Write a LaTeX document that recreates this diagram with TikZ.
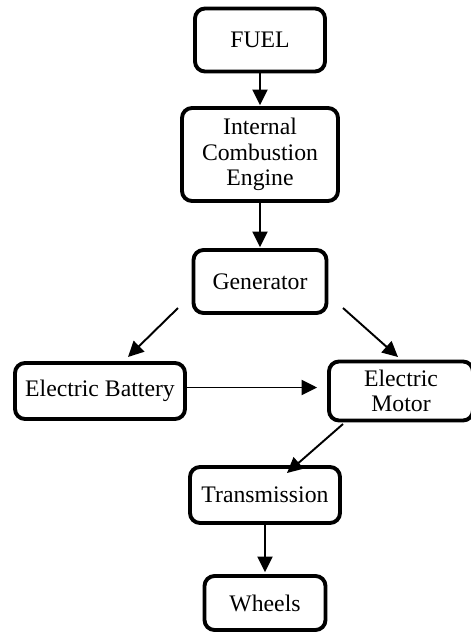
\documentclass[tikz,border=0pt]{standalone}
\usepackage{fontspec}
\setmainfont{Liberation Serif}
\usetikzlibrary{arrows.meta}

\begin{document}
\begin{tikzpicture} [scale = 1, box/.style = {draw, line width = 2.2pt, rounded corners = 0.2cm, align = center, inner sep = 2pt, font = \fontsize{13.5}{14.5}\selectfont}, arrow/.style = {line width = 1.1pt, -{Triangle[length = 0.31cm, width = 0.3cm]}}]
\useasboundingbox (0.0, 0.0) rectangle (9.4, -12.72);
\node[box, minimum width = 2.6cm, minimum height = 1.26cm] (fuel) at (5.2, -0.8){FUEL};
\node[box, minimum width = 3.12cm, minimum height = 1.86cm] (engine) at (5.2, -3.09){Internal\\Combustion\\Engine};
\node[box, minimum width = 2.66cm, minimum height = 1.26cm] (generator) at (5.2, -5.63){Generator};
\node[box, minimum width = 3.4cm, minimum height = 1.12cm] (battery) at (2.0, -7.82){Electric Battery};
\node[box, minimum width = 2.88cm, minimum height = 1.18cm] (motor) at (8.02, -7.82){Electric\\Motor};
\node[box, minimum width = 3.0cm, minimum height = 1.12cm] (transmission) at (5.3, -9.9){Transmission};
\node[box, minimum width = 2.42cm, minimum height = 1.08cm] (wheels) at (5.3, -12.06){Wheels};
\coordinate (genleft) at (3.56, -6.16);
\coordinate (batterytip) at (2.56, -7.14);
\coordinate (genright) at (6.86, -6.16);
\coordinate (motortip) at (7.96, -7.14);
\coordinate (motorfoot) at (6.86, -8.48);
\coordinate (transtip) at (5.74, -9.46);
\draw[arrow, shorten >= 0.02cm] (fuel) -- (engine);
\draw[arrow, shorten >= 0.02cm] (engine) -- (generator);
\draw[arrow] (genleft) -- (batterytip);
\draw[arrow] (genright) -- (motortip);
\draw[arrow, shorten >= 0.2cm] ([yshift = 0.07cm]battery.east) -- ([yshift = 0.07cm]motor.west);
\draw[arrow] (motorfoot) -- (transtip);
\draw[arrow, shorten >= 0.04cm] (transmission) -- (wheels);
\end{tikzpicture}
\end{document}
